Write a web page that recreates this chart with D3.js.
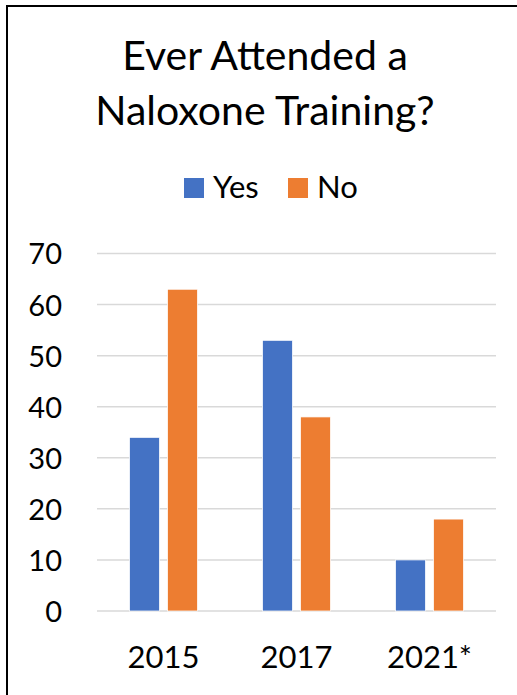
<!DOCTYPE html>
<html><head><meta charset="utf-8">
<script src="https://cdn.jsdelivr.net/npm/d3@7"></script>
<style>html,body{margin:0;padding:0;background:#fff;overflow:hidden}</style>
</head><body>
<svg id="c" width="517" height="695"></svg>
<script>
const titleLines = ["Ever Attended a", "Naloxone Training?"];
const categories = ["2015", "2017", "2021*"];
const seriesNames = ["Yes", "No"];
const yesValues = [34, 53, 10];
const noValues = [63, 38, 18];
const yTicks = [0, 10, 20, 30, 40, 50, 60, 70];
const colors = ["#4472C4", "#ED7D31"];

const FONT = "Lato, 'Open Sans', sans-serif";
const svg = d3.select("#c");
svg.append("rect").attr("width", 517).attr("height", 695).attr("fill", "#fff");
svg.append("rect").attr("x", 7).attr("y", 6).attr("width", 540).attr("height", 720)
  .attr("fill", "none").attr("stroke", "#000").attr("stroke-width", 2);

// title
svg.append("g").selectAll("text").data(titleLines).join("text")
  .attr("x", 265).attr("y", (d, i) => 70 + i * 55)
  .attr("text-anchor", "middle").attr("font-family", FONT).attr("font-size", 41)
  .attr("fill", "#000").text(d => d);

const x = d3.scaleBand().domain(categories).range([97, 496]).paddingInner(0).paddingOuter(0);
const xSub = d3.scaleBand().domain(seriesNames).range([32.5, 100.5]).paddingInner(8 / 38);
const y = d3.scaleLinear().domain([0, 70]).range([611, 253.5]);

// grid
svg.append("g").selectAll("line").data(yTicks).join("line")
  .attr("x1", 97).attr("x2", 496)
  .attr("y1", d => y(d)).attr("y2", d => y(d))
  .attr("stroke", "#d9d9d9").attr("stroke-width", 1.5);

// y axis labels
const yAxis = d3.axisLeft(y).tickValues(yTicks).tickSize(0).tickPadding(0);
const yg = svg.append("g").attr("transform", "translate(62,0)").call(yAxis);
yg.select(".domain").remove();
yg.selectAll("text").attr("font-family", FONT).attr("font-size", 29).attr("fill", "#000").attr("dy", "0.36em");

// x axis labels
const xAxis = d3.axisBottom(x).tickSize(0).tickPadding(0);
const xg = svg.append("g").attr("transform", "translate(0,646)").call(xAxis);
xg.select(".domain").remove();
xg.selectAll("text").attr("font-family", FONT).attr("font-size", 31).attr("fill", "#000").attr("dy", "0.72em");

// bars
const data = categories.map((c, i) => ({cat: c, vals: [
  {s: seriesNames[0], v: yesValues[i]}, {s: seriesNames[1], v: noValues[i]}]}));
svg.append("g").selectAll("g").data(data).join("g")
  .attr("transform", d => `translate(${x(d.cat)},0)`)
  .selectAll("rect").data(d => d.vals).join("rect")
  .attr("x", d => xSub(d.s)).attr("width", xSub.bandwidth())
  .attr("y", d => y(d.v)).attr("height", d => y(0) - y(d.v))
  .attr("fill", (d, i) => colors[i]).attr("stroke", "#fff").attr("stroke-width", 0.75);

// legend
const leg = svg.append("g");
const legX = [184, 288];
seriesNames.forEach((s, i) => {
  leg.append("rect").attr("x", legX[i]).attr("y", 178).attr("width", 20).attr("height", 20).attr("fill", colors[i]);
  leg.append("text").attr("x", legX[i] + 29).attr("y", 198).attr("font-family", FONT)
    .attr("font-size", 31).attr("fill", "#000").text(s);
});
</script>
</body></html>
